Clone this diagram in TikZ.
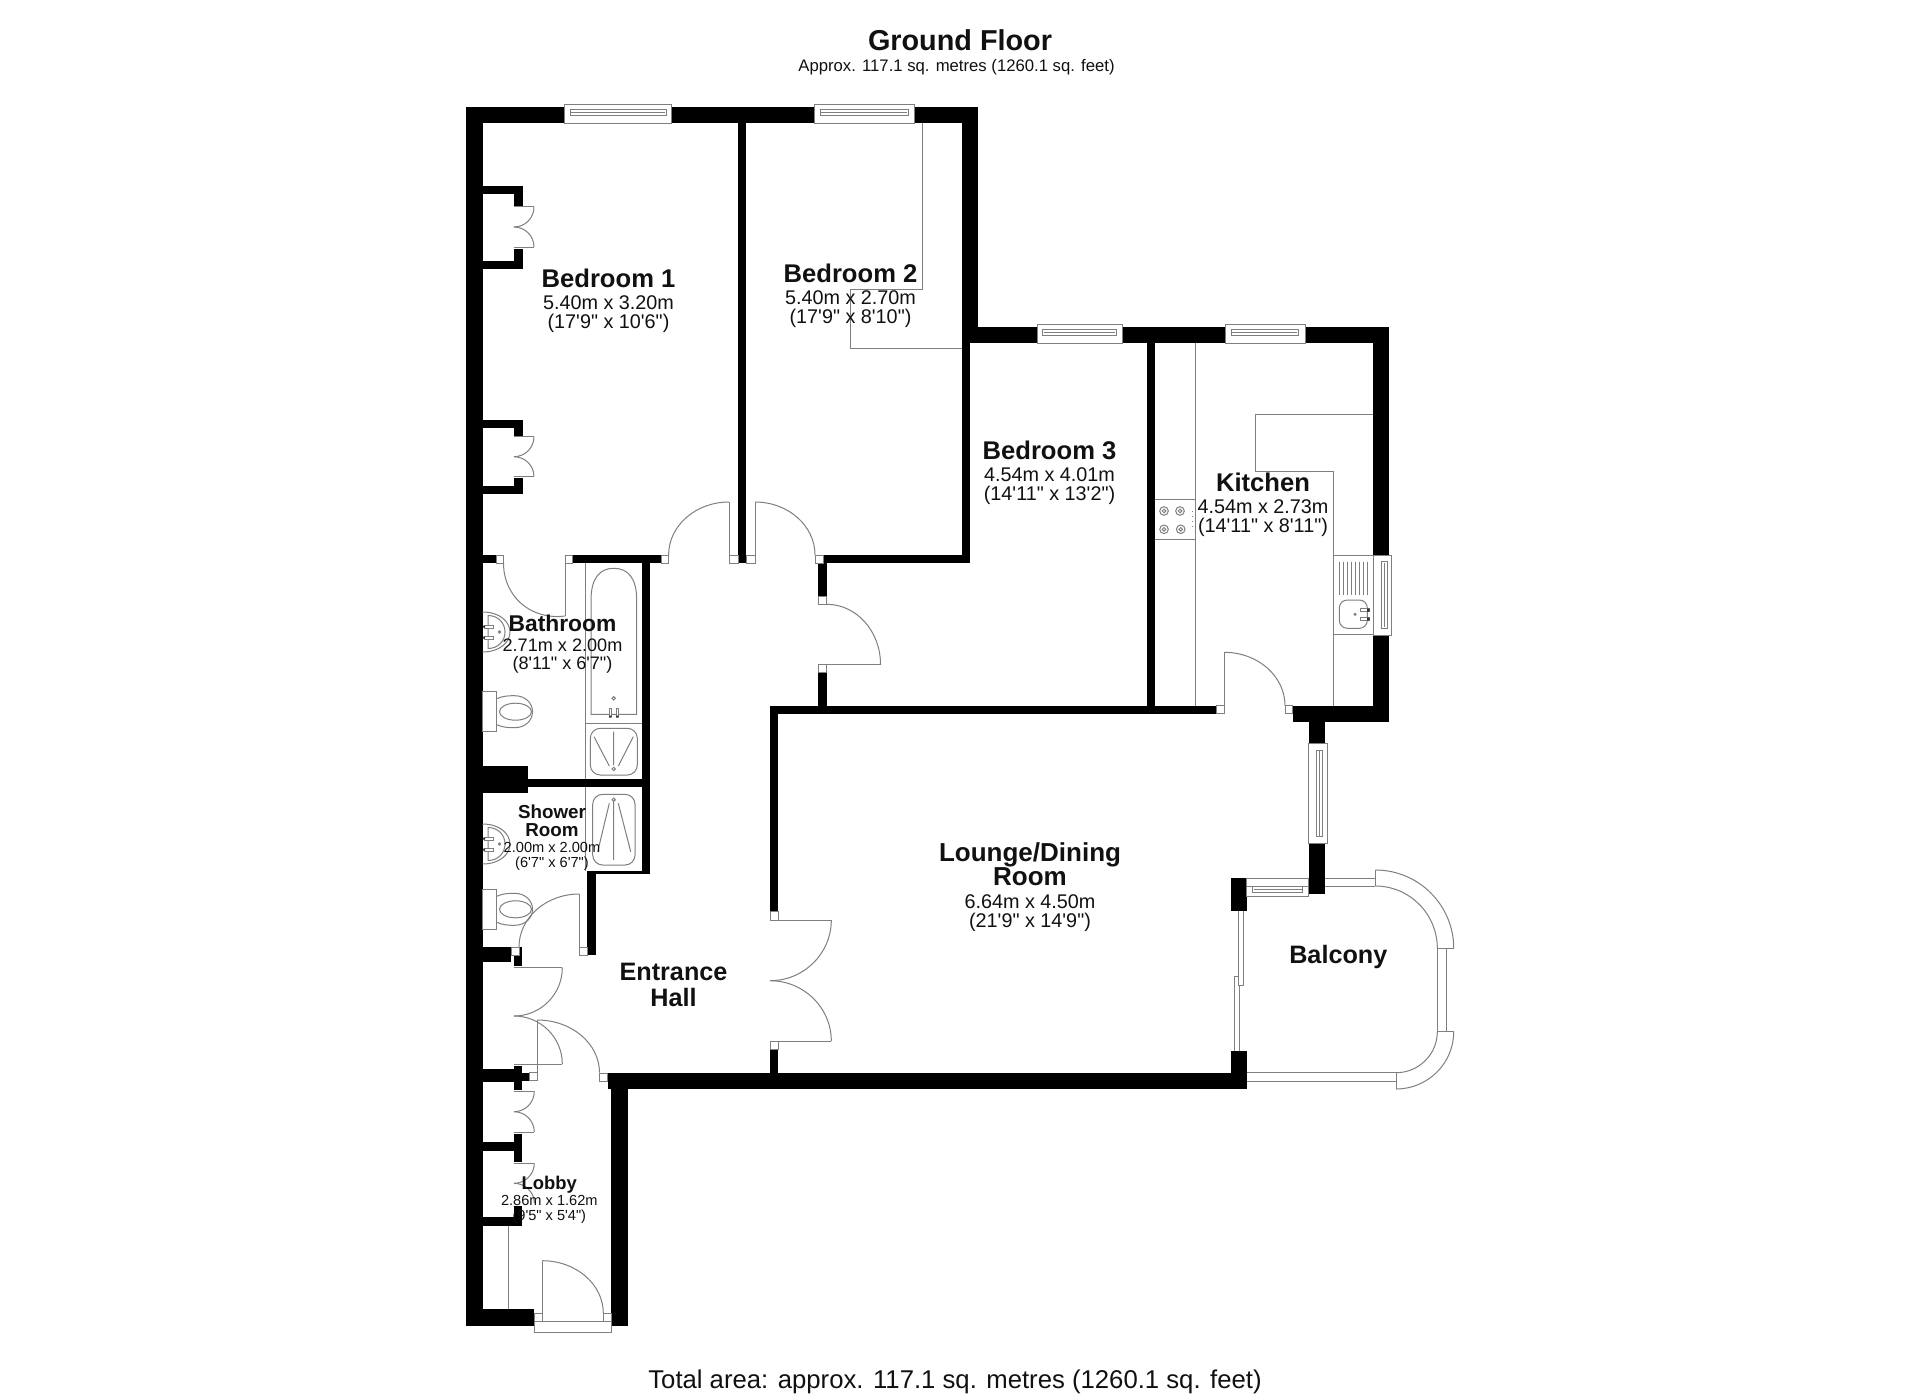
\documentclass[tikz,border=0pt]{standalone}
\usepackage{fontspec}
\newfontfamily\lib{Liberation Sans}
\usetikzlibrary{calc}
\definecolor{linegray}{HTML}{7F7F7F}
\definecolor{textgray}{HTML}{111111}
\newcommand\wallbox[4]{\fill[wallfill] (#1,#2) rectangle (#3,#4);}
\newcommand\jambbox[4]{\draw[jamb] (#1,#2) rectangle (#3,#4);}
\newcommand\dooarc[6]{\draw[fix] (#3,#4) .. controls ($(#3,#4)+0.5523*(#5,#6)-0.5523*(#1,#2)$) and ($(#5,#6)+0.5523*(#3,#4)-0.5523*(#1,#2)$) .. (#5,#6);}
\newcommand\hwin[6]{\draw[jamb] (#1,#3) rectangle (#2,#4); \draw[fix] (#5,#3+5) rectangle (#6,#3+11); \draw[fix] (#5+1,#3+8)--(#6-1,#3+8);}
\newcommand\vwin[6]{\draw[jamb] (#1,#3) rectangle (#2,#4); \draw[fix] (#1+8,#5) rectangle (#1+14,#6); \draw[fix] (#1+11,#5+1)--(#1+11,#6-1);}
\newcommand\basinat[1]{\begin{scope}[shift={(0,#1)}]
 \draw[fix] (482.5,-20) .. controls (500,-20) and (510,-10) .. (510,0) .. controls (510,10) and (500,20) .. (482.5,20);
 \draw[fix] (488,-16.5) .. controls (498,-16.5) and (505,-9) .. (505,0) .. controls (505,9) and (498,16.5) .. (488,16.5) -- cycle;
 \draw[fix,fill=white] (484,-7) rectangle (493,-4);
 \draw[fix,fill=white] (484,4) rectangle (493,7);
 \fill[black!80] (483,-6.5) rectangle (485,-4.5) (483,4.5) rectangle (485,6.5);
 \draw[fix] (499.5,0) circle [radius=1.2];
\end{scope}}
\newcommand\toiletat[1]{\begin{scope}[shift={(0,#1)}]
 \draw[fix] (482.5,-20) rectangle (496.7,20);
 \draw[fix] (496.7,-13) .. controls (503,-16) and (510,-16) .. (514.5,-16) .. controls (525,-16) and (532.5,-9) .. (532.5,0) .. controls (532.5,9) and (525,16) .. (514.5,16) .. controls (510,16) and (503,16) .. (496.7,13);
 \draw[fix] (515.5,0) ellipse [x radius=16,y radius=8.5];
\end{scope}}
\newcommand\rn[1]{{\fontsize{12.8}{12.8}\selectfont\bfseries #1}}
\begin{document}
\begin{tikzpicture}[x=0.5pt,y=-0.5pt,
  wallfill/.style={fill=black},
  fix/.style={draw=linegray,line width=0.5pt},
  jamb/.style={draw=linegray,line width=0.5pt,fill=white},
  room/.style={inner sep=0pt,align=center,text=textgray,font=\lib\fontsize{9.9}{9.7}\selectfont},
  small/.style={inner sep=0pt,align=center,text=textgray,font=\lib\fontsize{7.3}{7.5}\selectfont}]
\useasboundingbox (0,0) rectangle (1920,1396);
\fill[white] (0,0) rectangle (1920,1396);

% ---- outer and inner walls
\wallbox{466}{107}{482.5}{1325.7}
\wallbox{466}{107}{978}{123.3}
\wallbox{738}{107}{746}{563}
\wallbox{962}{107}{978}{343}
\wallbox{962}{327}{970}{563}
\wallbox{962}{327}{1389.3}{343}
\wallbox{1373.3}{327}{1389.3}{721.7}
\wallbox{1146.7}{327}{1155}{713.3}
\wallbox{823}{555}{970}{563}
\wallbox{482}{555}{496}{563}
\wallbox{572}{555}{661}{563}
\wallbox{818.3}{555}{826.7}{596.7}
\wallbox{818.3}{672.3}{826.7}{705.7}
\wallbox{770}{705.7}{1216.7}{713.5}
\wallbox{770}{705.7}{778.3}{911.7}
\wallbox{641.7}{555}{650}{874}
\wallbox{1292.7}{705.7}{1389.3}{721.7}
\wallbox{1308.7}{705.7}{1325}{743.3}
\wallbox{1308.7}{843.3}{1325}{894}
\wallbox{1230.7}{878.3}{1246.7}{911}
\wallbox{1230.7}{1050.7}{1246.7}{1088.7}
\wallbox{607.5}{1073}{1246.7}{1088.7}
\wallbox{770}{1049.3}{778.3}{1073}
\wallbox{611.3}{1081}{627.7}{1325.7}
\wallbox{466}{1309.3}{534.3}{1325.7}
% bathroom / shower
\wallbox{482}{765.7}{527.7}{792.7}
\wallbox{527}{779}{650}{787.3}
\wallbox{595}{871}{650}{874}
\wallbox{587.3}{871}{595.7}{955}
% closets bedroom 1
\wallbox{482}{186}{522.5}{194}
\wallbox{514}{186}{522.5}{206}
\wallbox{514}{249}{522.5}{269}
\wallbox{482}{261}{522.5}{269}
\wallbox{482}{420}{522.5}{428}
\wallbox{514}{420}{522.5}{436}
\wallbox{514}{478}{522.5}{494}
\wallbox{482}{486}{522.5}{494}
% entrance / lobby stubs
\wallbox{482}{946.7}{511}{962.3}
\wallbox{514}{946.7}{522.3}{966}
\wallbox{482}{1069.3}{522}{1081.7}
\wallbox{522}{1072.7}{529.3}{1080.7}
\wallbox{514}{1065.7}{522.3}{1090}
\wallbox{514}{1134}{522.3}{1162.3}
\wallbox{482}{1142}{514}{1151}
\wallbox{514}{1206}{522.3}{1225.7}
\wallbox{482}{1217.3}{522.3}{1225.7}

% ---- door jamb boxes
\jambbox{496}{555}{503.5}{563}
\jambbox{565}{555}{572.7}{563}
\jambbox{661}{555}{668.6}{563}
\jambbox{729}{555}{738}{563}
\jambbox{746}{555}{755}{563}
\jambbox{815}{555}{823}{563}
\jambbox{818.3}{596.7}{826.7}{604.3}
\jambbox{818.3}{664.3}{826.7}{672.3}
\jambbox{770}{911.7}{778.3}{920}
\jambbox{770}{1041}{778.3}{1049.3}
\jambbox{1216.7}{705.7}{1224.3}{713.3}
\jambbox{1285}{705.7}{1292.7}{713.3}
\jambbox{511}{947}{519}{955}
\jambbox{579.3}{947}{587.3}{955}
\jambbox{529.3}{1072.7}{537.3}{1080.7}
\jambbox{599.5}{1073}{607.5}{1081}
\jambbox{534.3}{1313.3}{542.3}{1321.7}
\jambbox{603.3}{1313.3}{611.3}{1321.7}

% ---- doors
\draw[fix] (565,555)--(565,616);
\dooarc{565}{555}{503.5}{563}{565}{616}
\draw[fix] (729,555)--(729,502);
\dooarc{729}{555}{668.6}{555}{729}{502}
\draw[fix] (755,555)--(755,502);
\dooarc{755}{555}{815}{555}{755}{502}
\dooarc{826.7}{664.3}{826.7}{604.3}{880.5}{664.3}
\draw[fix] (826.7,664.3)--(880.5,664.3);
\draw[fix] (1224.3,705.7)--(1224.3,652.3);
\dooarc{1224.3}{705.7}{1224.3}{652.3}{1285}{705.7}
% double doors lounge
\draw[fix] (778.3,920)--(831.3,920);
\dooarc{770}{920}{831.3}{920}{770}{980.7}
\dooarc{770}{1041}{770}{980.7}{831.3}{1041}
\draw[fix] (778.3,1041)--(831.3,1041);
% shower room door
\draw[fix] (579.3,947)--(579.3,894);
\dooarc{579.3}{947}{579.3}{894}{519}{947}
% cloak double door
\draw[fix] (514,967.7)--(562.3,967.7);
\dooarc{514}{967.7}{562.3}{967.7}{514}{1016}
\dooarc{514}{1064}{514}{1016}{562.3}{1064}
\draw[fix] (514,1064)--(562.3,1064);
% lobby door
\draw[fix] (537.3,1072.7)--(537.3,1020);
\dooarc{537.3}{1072.7}{537.3}{1020}{599.5}{1072.7}
% entry door
\draw[fix] (542.3,1313.3)--(542.3,1260.7);
\dooarc{542.3}{1313.3}{542.3}{1260.7}{603.3}{1313.3}
\draw[jamb] (534.3,1321.7) rectangle (611.3,1332.3);
% closet doors
\draw[fix] (514,207)--(534,207);
\dooarc{514}{207}{534}{207}{514}{227}
\dooarc{514}{247}{514}{227}{534}{247}
\draw[fix] (514,247)--(534,247);
\draw[fix] (514,436.7)--(534,436.7);
\dooarc{514}{436.7}{534}{436.7}{514}{456.7}
\dooarc{514}{476.7}{514}{456.7}{534}{476.7}
\draw[fix] (514,476.7)--(534,476.7);
\draw[fix] (514,1091.3)--(534.3,1091.3);
\dooarc{514}{1091.3}{534.3}{1091.3}{514}{1111.7}
\dooarc{514}{1132}{514}{1111.7}{534.3}{1132}
\draw[fix] (514,1132)--(534.3,1132);
\draw[fix] (514,1163.3)--(534.3,1163.3);
\dooarc{514}{1163.3}{534.3}{1163.3}{514}{1183.3}
\dooarc{514}{1203}{514}{1183.3}{534.3}{1203}
\draw[fix] (508.7,1225.7)--(508.7,1309.3);

% ---- windows
\hwin{564}{671.7}{104.3}{123.3}{570}{666}
\hwin{814}{914}{104.3}{123.3}{820}{908}
\hwin{1037}{1122}{324.3}{343}{1042.7}{1116}
\hwin{1225}{1305}{324.3}{343}{1231}{1298}
\vwin{1373.3}{1391.7}{555.7}{635}{561.7}{628.3}
\vwin{1308.7}{1327.3}{743.3}{843.3}{750}{836.7}
% balcony window
\draw[jamb] (1246.7,878.3) rectangle (1308.7,896.7);
\draw[fix] (1252.7,886.7) rectangle (1302.7,892.7);
\draw[fix] (1253.7,889.7)--(1301.7,889.7);
\draw[fix] (1246.7,886.7)--(1252.7,886.7) (1302.7,886.7)--(1308.7,886.7);

% ---- wardrobe in bedroom 2
\draw[fix] (922.5,123.3)--(922.5,289)--(850,289)--(850,348)--(962,348);

% ---- bathroom fixtures
\draw[fix] (585.7,563)--(585.7,779) (585.7,787.3)--(585.7,871);
\draw[fix] (585.7,723.3)--(641.7,723.3);
\draw[fix] (591,714.3)--(591,600) .. controls (591,578) and (600,568.3) .. (613.7,568.3) .. controls (628,568.3) and (636.7,578) .. (636.7,600) -- (636.7,714.3) -- cycle;
\draw[fix,fill=white] (609,708.3) rectangle (611.7,716.5);
\draw[fix,fill=white] (616,708.3) rectangle (618.7,716.5);
\fill[black!80] (609,715.5) rectangle (611.7,717.5) (616,715.5) rectangle (618.7,717.5);
\draw[fix] (613.7,698.3) circle [radius=1.7];
\draw[fix,rounded corners=5pt] (590.3,728.3) rectangle (637.3,775);
\draw[fix] (613.7,731.7)--(613.7,765) (594,736.7)--(609.3,766) (633.3,736.7)--(618.3,766);
\draw[fix] (613.7,769) circle [radius=1.7];
\draw[fix,rounded corners=5pt] (592.7,794.3) rectangle (635,865);
\draw[fix] (613.7,801.7)--(613.7,860) (609.3,803.3)--(597.7,851.7) (618.3,803.3)--(630.7,851.7);
\draw[fix] (613.7,799.7) circle [radius=1.7];
\basinat{632}
\basinat{844}
\toiletat{711.7}
\toiletat{909.3}

% ---- kitchen fixtures
\draw[fix] (1195,343)--(1195,705.7);
\draw[fix] (1155,499.3)--(1195,499.3) (1155,539.3)--(1195,539.3);
\draw[fix] (1164,511) circle [radius=4.3] (1164,511) circle [radius=1.8]
 (1180,511) circle [radius=4.3] (1180,511) circle [radius=1.8]
 (1164,529.3) circle [radius=4.3] (1164,529.3) circle [radius=1.8]
 (1180.7,529.3) circle [radius=4.3] (1180.7,529.3) circle [radius=1.8];
\draw[fix,dotted] (1192.3,511)--(1192.3,529);
\draw[fix] (1373.3,414)--(1255,414)--(1255,471.7)--(1333.3,471.7)--(1333.3,705.7);
\draw[fix] (1333.3,555)--(1373.3,555) (1333.3,634)--(1373.3,634);
\foreach \dx in {1339,1343,1347,1351,1355,1359,1363,1367} {\draw[fix] (\dx,561.7)--(\dx,595);}
\draw[fix,rounded corners=4pt] (1339.3,600) rectangle (1367.3,628.3);
\draw[fix,fill=white] (1360,608.5) rectangle (1369,611.5);
\draw[fix,fill=white] (1360,617.5) rectangle (1369,620.5);
\fill[black!80] (1367,608.5) rectangle (1369.5,611.5) (1367,617.5) rectangle (1369.5,620.5);
\draw[fix] (1355,614.3) circle [radius=1];

% ---- balcony
\draw[fix] (1325,878.3)--(1375.3,878.3) (1325,886)--(1375.3,886);
\draw[fix] (1375.3,870)--(1375.3,886);
\dooarc{1375.3}{948.3}{1375.3}{870}{1453.7}{948.3}
\dooarc{1375.3}{948.3}{1375.3}{886}{1437.3}{948.3}
\draw[fix] (1437.3,948.3)--(1453.7,948.3);
\draw[fix] (1437.7,948.3)--(1437.7,1031.7) (1446,948.3)--(1446,1031.7);
\draw[fix] (1437.3,1031.7)--(1453.7,1031.7);
\dooarc{1396}{1031.7}{1453.7}{1031.7}{1396}{1089}
\dooarc{1396}{1031.7}{1437.3}{1031.7}{1396}{1072.7}
\draw[fix] (1396,1072.7)--(1396,1089);
\draw[fix] (1246.7,1072.7)--(1396,1072.7) (1246.7,1081)--(1396,1081);
\draw[fix] (1238.7,911)--(1238.7,976.7) (1243.3,911)--(1243.3,985)--(1238.7,985)--(1238.7,976.7)--(1234.7,976.7)--(1234.7,1050.7) (1239.3,985)--(1239.3,1050.7);

% ---- labels
\node[room,font=\lib\fontsize{14.4}{14.4}\selectfont\bfseries,text=textgray] (title) at (960,40) {Ground Floor};
\node[room,font=\lib\fontsize{8.35}{8.35}\selectfont] (subtitle) at (956.5,67.5) {Approx. 117.1 sq. metres (1260.1 sq. feet)};
\node[room,font=\lib\fontsize{12.85}{12.85}\selectfont] (total) at (955,1381.5) {Total area: approx. 117.1 sq. metres (1260.1 sq. feet)};
\node[room] (bed1) at (608.5,300.5) {\rn{Bedroom 1}\\[1.3pt]5.40m x 3.20m\\(17'9" x 10'6")};
\node[room] (bed2) at (850.5,295.5) {\rn{Bedroom 2}\\[1.3pt]5.40m x 2.70m\\(17'9" x 8'10")};
\node[room] (bed3) at (1049.5,472.5) {\rn{Bedroom 3}\\[1.3pt]4.54m x 4.01m\\(14'11" x 13'2")};
\node[room] (kitchen) at (1263,505) {\rn{Kitchen}\\[1.3pt]4.54m x 2.73m\\(14'11" x 8'11")};
\node[room,font=\lib\fontsize{9.05}{9.2}\selectfont] (bath) at (562.5,644.5) {{\fontsize{11.4}{11.3}\selectfont\bfseries Bathroom}\\[0.6pt]2.71m x 2.00m\\(8'11" x 6'7")};
\node[small] (shower) at (552,838) {{\fontsize{9.4}{9.4}\selectfont\bfseries Shower}\\[1.4pt]{\fontsize{9.4}{9.4}\selectfont\bfseries Room}\\[0.6pt]2.00m x 2.00m\\(6'7" x 6'7")};
\node[room,font=\lib\fontsize{12.6}{12.7}\selectfont\bfseries] (hall) at (673.5,985) {Entrance\\Hall};
\node[small] (lobby) at (549.3,1200) {{\fontsize{9.2}{9.2}\selectfont\bfseries Lobby}\\[0.6pt]2.86m x 1.62m\\(9'5" x 5'4")};
\node[room] (lounge) at (1030,887) {{\fontsize{13}{13}\selectfont\bfseries Lounge/Dining}\\[-0.4pt]{\fontsize{13}{13}\selectfont\bfseries Room}\\[1.6pt]6.64m x 4.50m\\(21'9" x 14'9")};
\node[room,font=\lib\fontsize{12.6}{12.6}\selectfont\bfseries] (balcony) at (1338.3,956.5) {Balcony};
\end{tikzpicture}
\end{document}
